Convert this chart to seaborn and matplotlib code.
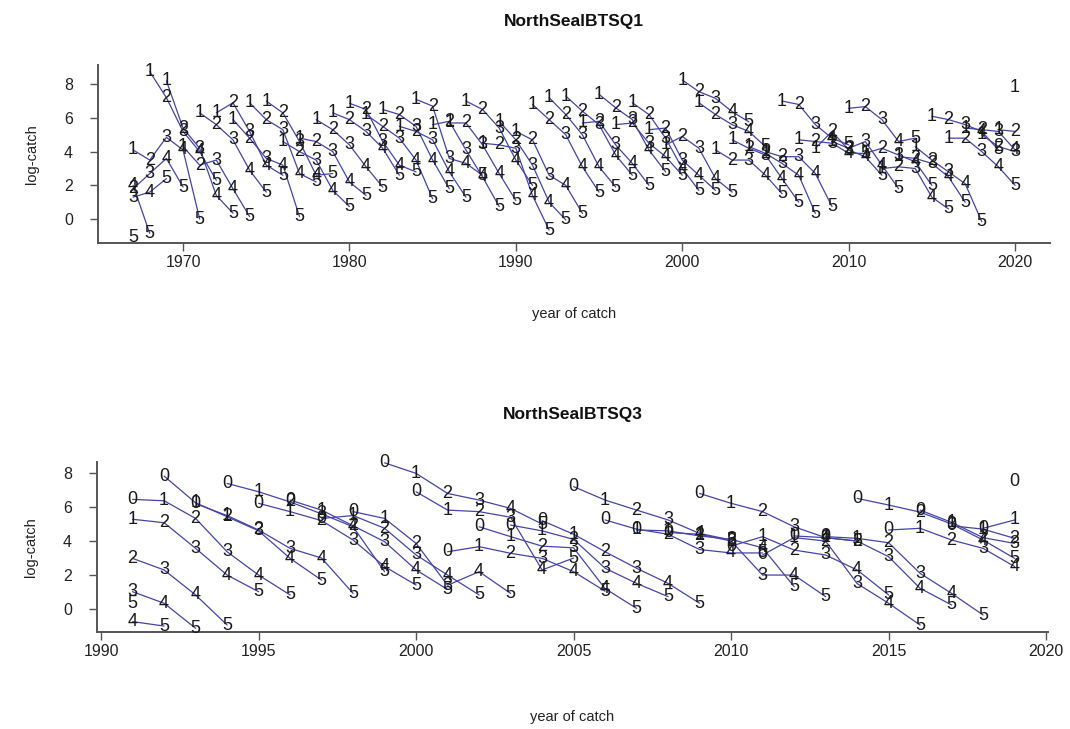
import numpy as np
import pandas as pd
import matplotlib
matplotlib.use("Agg")
import matplotlib.pyplot as plt
import seaborn as sns

# ---- NorthSealBTSQ1: log-catch by year of catch, ages 1-5 ----
q1_years = list(range(1967, 2021))
q1_age1 = [4.1, 8.75, 8.2, 4.3, 6.3, 6.3, 5.9, 6.9, 7.0, 4.6,
           4.8, 5.9, 6.3, 6.87, 6.2, 6.5, 5.5, 7.1, 5.6, 5.7,
           7.0, 4.5, 5.8, 5.2, 6.8, 7.2, 7.3, 5.7, 7.4, 5.6,
           6.9, 5.3, 4.4, 8.25, 6.9, 4.1, 4.7, 4.3, 4.0, 7.0,
           4.7, 4.2, 4.6, 6.57, 3.9, 3.0, 3.7, 4.3, 6.1, 4.8,
           5.4, 5.0, 5.3, 7.8]
q1_age2 = [1.8, 3.5, 7.2, 5.4, 3.2, 5.6, 6.9, 4.8, 5.9, 6.3,
           4.0, 4.6, 5.3, 5.9, 6.5, 5.5, 6.2, 5.2, 6.7, 5.8,
           5.7, 6.5, 4.4, 4.7, 4.7, 5.9, 6.2, 6.4, 5.8, 6.6,
           5.7, 6.2, 5.4, 4.9, 7.56, 6.2, 3.5, 4.2, 3.9, 3.7,
           6.8, 4.6, 5.2, 4.2, 6.67, 4.2, 3.1, 3.6, 3.5, 5.9,
           4.8, 5.3, 4.3, 5.2]
q1_age3 = [1.3, 2.7, 4.85, 5.2, 4.2, 3.5, 4.7, 5.2, 3.6, 5.3,
           4.6, 3.5, 4.0, 4.4, 5.2, 4.6, 4.8, 5.5, 4.7, 3.6,
           4.1, 4.4, 5.4, 4.2, 3.2, 2.6, 5.0, 5.0, 5.6, 4.4,
           5.9, 4.5, 4.8, 3.5, 4.2, 7.16, 5.6, 3.5, 3.8, 3.3,
           3.7, 5.6, 4.5, 4.1, 4.6, 5.9, 3.8, 3.0, 3.3, 2.8,
           5.6, 4.0, 5.2, 4.0]
q1_age4 = [2.0, 1.6, 3.6, 4.1, 4.0, 1.4, 1.8, 2.9, 3.2, 3.2,
           2.7, 2.6, 1.7, 2.2, 3.1, 4.2, 3.2, 3.5, 3.5, 2.8,
           3.3, 2.5, 2.7, 3.5, 1.4, 1.0, 2.0, 3.1, 3.1, 3.8,
           3.3, 4.1, 3.7, 3.0, 2.6, 2.4, 6.37, 5.2, 2.6, 2.4,
           2.6, 2.7, 4.8, 3.9, 3.7, 3.2, 4.6, 3.4, 1.3, 2.5,
           2.1, 5.2, 3.1, 4.1]
q1_age5 = [-1.1, -0.85, 2.4, 1.9, 0.0, 2.3, 0.35, 0.15, 1.6, 2.6,
           0.15, 2.2, 2.7, 0.74, 1.4, 1.9, 2.6, 2.8, 1.2, 1.8,
           1.3, 2.6, 0.74, 1.1, 2.0, -0.65, -0.05, 0.34, 1.6, 1.9,
           2.6, 2.0, 2.8, 2.6, 1.7, 1.7, 1.6, 5.77, 4.3, 1.5,
           1.0, 0.34, 0.74, 4.4, 3.9, 2.6, 1.8, 4.8, 2.0, 0.6,
           1.0, -0.15, 4.1, 2.0]
q1_ages = [1, 2, 3, 4, 5]
q1_values = [q1_age1, q1_age2, q1_age3, q1_age4, q1_age5]

# ---- NorthSealBTSQ3: log-catch by year of catch, ages 0-5 ----
q3_years = list(range(1991, 2020))
q3_age0 = [6.45, 7.82, 6.2, 7.39, 6.22, 6.41, 5.33, 5.73, 8.6, 6.9,
           3.37, 4.84, 4.94, 5.2, 7.2, 5.24, 4.65, 4.5, 6.8, 3.7,
           3.18, 4.3, 4.26, 6.51, 4.65, 5.82, 4.9, 4.75, 7.49]
q3_age1 = [5.28, 6.37, 6.25, 5.5, 6.9, 5.73, 5.82, 5.5, 5.33, 7.98,
           5.82, 3.67, 4.26, 4.6, 4.4, 6.41, 4.7, 4.6, 4.4, 6.22,
           4.26, 4.2, 4.2, 4.16, 6.12, 4.75, 5.1, 4.7, 5.24]
q3_age2 = [2.98, 5.08, 5.33, 5.43, 4.65, 6.3, 5.2, 4.9, 4.75, 3.86,
           6.8, 5.73, 3.28, 3.7, 4.1, 3.37, 5.82, 4.4, 4.3, 4.0,
           5.73, 3.47, 4.0, 4.0, 3.9, 5.7, 4.06, 4.2, 4.16]
q3_age3 = [1.02, 2.3, 3.57, 3.37, 4.6, 3.57, 5.6, 4.06, 3.96, 3.18,
           1.4, 6.41, 5.4, 2.98, 3.6, 2.4, 2.4, 5.24, 3.5, 4.1,
           2.0, 4.84, 3.18, 1.5, 3.08, 2.1, 5.0, 3.57, 3.86]
q3_age4 = [-0.74, 0.34, 0.83, 2.0, 2.0, 2.98, 3.0, 4.84, 2.5, 2.3,
           2.0, 2.2, 5.92, 2.3, 2.2, 1.2, 1.51, 1.51, 4.45, 3.3,
           3.6, 2.0, 4.2, 2.3, 0.34, 1.22, 0.92, 4.06, 2.5]
q3_age5 = [0.34, -1.0, -1.13, -0.94, 1.02, 0.83, 1.7, 0.92, 2.2, 1.41,
           1.15, 0.83, 0.92, 5.0, 3.0, 1.05, 0.04, 0.73, 0.34, 4.06,
           3.3, 1.32, 0.73, 4.0, 0.83, -0.94, 0.24, -0.35, 2.98]
q3_ages = [0, 1, 2, 3, 4, 5]
q3_values = [q3_age0, q3_age1, q3_age2, q3_age3, q3_age4, q3_age5]


def long_table(years, ages, values):
    rows = []
    for age, vals in zip(ages, values):
        for yr, v in zip(years, vals):
            rows.append({"year": yr, "age": age, "cohort": yr - age, "logcatch": v})
    return pd.DataFrame(rows)


sns.set_theme(style="ticks")
plt.rcParams["font.family"] = ["Liberation Sans", "DejaVu Sans"]

LINE_COLOR = "#4444aa"
TEXT_COLOR = "#1a1a1a"
AXIS_COLOR = "#555555"

fig = plt.figure(figsize=(10.7, 7.29), dpi=100)
ax1 = fig.add_axes([98 / 1070, 1 - 243 / 729, (1050 - 98) / 1070, (243 - 65) / 729])
ax2 = fig.add_axes([97 / 1070, 1 - 632 / 729, (1048 - 97) / 1070, (632 - 462) / 729])

panels = [
    (ax1, "NorthSealBTSQ1", long_table(q1_years, q1_ages, q1_values),
     (1964.89, 2022.1), (-1.42, 9.14), [1970, 1980, 1990, 2000, 2010, 2020], 28, 26),
    (ax2, "NorthSealBTSQ3", long_table(q3_years, q3_ages, q3_values),
     (1989.87, 2020.06), (-1.35, 8.65), [1990, 1995, 2000, 2005, 2010, 2015, 2020], 31, 36),
]

for ax, title, df, xlim, ylim, xticks, tpad, xpad in panels:
    sns.lineplot(data=df, x="year", y="logcatch", units="cohort", estimator=None,
                 color=LINE_COLOR, linewidth=0.9, ax=ax, legend=False, zorder=2)
    for _, r in df.iterrows():
        ax.text(r["year"], r["logcatch"], str(int(r["age"])), ha="center", va="center",
                fontsize=13, color=TEXT_COLOR, zorder=3, clip_on=False)
    ax.set_xlim(*xlim)
    ax.set_ylim(*ylim)
    ax.set_xticks(xticks)
    ax.set_yticks([0, 2, 4, 6, 8])
    ax.set_title(title, fontsize=12.5, fontweight="bold", pad=tpad, color="#111111")
    ax.set_xlabel("year of catch", fontsize=10.5, labelpad=xpad, color="#222222")
    ax.set_ylabel("log-catch", fontsize=10.5, labelpad=18, color="#222222")
    ax.tick_params(axis="x", direction="out", length=6, width=1, color=AXIS_COLOR,
                   labelsize=11.5, labelcolor="#222222", pad=3)
    ax.tick_params(axis="y", direction="out", length=6, width=1, color=AXIS_COLOR,
                   labelsize=11.5, labelcolor="#222222", pad=12)
    sns.despine(ax=ax)
    for side in ("left", "bottom"):
        ax.spines[side].set_color(AXIS_COLOR)
        ax.spines[side].set_linewidth(1.4)
    ax.set_facecolor("white")

fig.savefig("out.png", dpi=100, facecolor="white")
